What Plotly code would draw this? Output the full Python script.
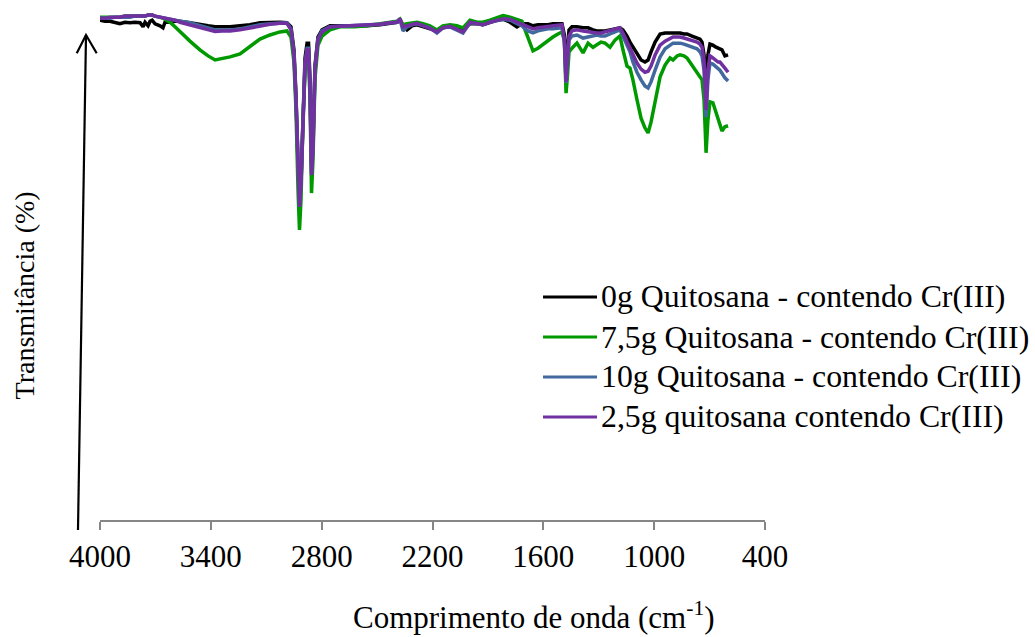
import plotly.graph_objects as go

# FTIR spectra of the Cr(III)-loaded samples (transmittance, arbitrary % scale)
wavenumber = [
    4000, 3973, 3946, 3919, 3892, 3865, 3838, 3811, 3783, 3767,
    3756, 3740, 3729, 3718, 3702, 3675, 3659, 3648, 3621, 3594,
    3567, 3513, 3459, 3415, 3377, 3340, 3296, 3242, 3188, 3134,
    3080, 3026, 2988, 2966, 2950, 2939, 2928, 2920, 2912, 2901,
    2890, 2879, 2871, 2863, 2855, 2847, 2836, 2820, 2798, 2755,
    2701, 2620, 2555, 2484, 2430, 2392, 2376, 2360, 2338, 2311,
    2284, 2251, 2214, 2176, 2144, 2105, 2068, 2035, 1997, 1959,
    1927, 1889, 1851, 1818, 1780, 1743, 1716, 1699, 1683, 1656,
    1629, 1602, 1575, 1548, 1521, 1499, 1486, 1477, 1469, 1461,
    1445, 1418, 1385, 1358, 1331, 1310, 1288, 1266, 1239, 1212,
    1185, 1169, 1147, 1131, 1115, 1093, 1071, 1050, 1033, 1017,
    995, 968, 941, 914, 898, 876, 860, 839, 822, 795,
    768, 752, 741, 730, 719, 709, 698, 682, 665, 654,
    644, 633, 617, 600,
]

t_0g = [
    98.0, 97.8, 97.8, 97.6, 97.3, 97.6, 97.5, 97.6, 97.5, 96.7,
    97.6, 96.9, 97.8, 98.0, 97.3, 96.9, 96.5, 97.6, 97.6, 97.8,
    97.8, 97.5, 97.1, 96.9, 96.7, 96.7, 96.7, 96.9, 97.1, 97.5,
    97.6, 97.6, 97.5, 96.7, 92.2, 83.3, 69.6, 62.7, 66.7, 81.4,
    90.6, 93.5, 93.5, 86.3, 69.6, 74.5, 89.2, 94.7, 96.1, 96.9,
    96.9, 96.9, 96.9, 97.1, 97.3, 97.6, 98.0, 96.9, 96.1, 96.9,
    97.1, 96.7, 96.3, 95.9, 96.5, 96.7, 96.3, 96.1, 97.3, 97.3,
    97.1, 97.6, 98.0, 98.2, 97.6, 96.7, 97.3, 97.3, 97.3, 96.9,
    97.1, 97.1, 97.1, 97.3, 97.3, 97.3, 95.1, 88.2, 92.2, 96.1,
    96.7, 96.7, 96.5, 96.5, 96.1, 95.9, 95.9, 95.9, 96.1, 96.3,
    96.5, 96.1, 94.9, 93.7, 92.7, 91.4, 90.2, 89.8, 90.2, 91.8,
    93.7, 95.3, 95.5, 95.5, 95.5, 95.5, 95.5, 95.3, 95.3, 94.9,
    94.5, 94.3, 93.7, 91.2, 83.3, 91.2, 93.3, 93.1, 92.7, 92.5,
    92.4, 92.2, 91.0, 91.2,
]

t_7_5g = [
    98.6, 98.6, 98.6, 98.6, 98.6, 98.8, 98.8, 98.8, 98.8, 98.8,
    98.8, 99.0, 99.0, 99.0, 98.8, 98.6, 98.4, 98.2, 97.6, 96.7,
    95.7, 93.9, 92.2, 91.0, 90.2, 90.4, 90.8, 91.4, 92.9, 94.3,
    95.1, 95.7, 95.9, 94.7, 89.8, 80.4, 64.7, 56.9, 62.7, 78.8,
    87.8, 90.8, 90.8, 82.4, 64.1, 70.6, 86.7, 93.1, 94.9, 96.1,
    96.7, 96.7, 96.9, 97.3, 97.6, 97.8, 98.2, 97.1, 97.3, 97.5,
    97.6, 97.3, 96.9, 96.1, 96.9, 97.1, 96.9, 96.5, 98.0, 97.6,
    97.6, 98.0, 98.4, 98.9, 98.6, 98.2, 97.8, 96.1, 94.5, 92.0,
    92.5, 93.3, 94.1, 94.7, 95.3, 95.7, 94.1, 83.7, 87.3, 91.8,
    92.5, 93.5, 91.6, 93.5, 92.7, 93.1, 93.7, 93.5, 92.7, 94.1,
    94.9, 92.2, 89.0, 88.6, 86.3, 82.4, 78.8, 76.9, 75.9, 78.0,
    82.4, 86.9, 89.2, 90.6, 90.2, 91.0, 91.2, 91.0, 90.6, 89.2,
    87.6, 86.9, 86.3, 82.4, 72.0, 78.4, 82.0, 81.8, 80.0, 79.0,
    77.5, 76.3, 77.1, 77.3,
]

t_10g = [
    98.4, 98.4, 98.4, 98.6, 98.6, 98.6, 98.6, 98.8, 98.8, 98.8,
    98.8, 99.0, 99.0, 99.0, 98.8, 98.6, 98.4, 98.4, 98.2, 98.0,
    97.8, 97.5, 96.9, 96.5, 96.1, 96.1, 96.1, 96.3, 96.7, 97.1,
    97.3, 97.5, 97.5, 96.3, 91.4, 82.7, 69.0, 61.8, 66.1, 80.8,
    89.6, 92.5, 92.5, 84.9, 68.2, 73.3, 88.6, 94.3, 95.9, 96.7,
    96.8, 96.8, 96.9, 97.2, 97.5, 97.6, 98.2, 95.9, 96.7, 97.1,
    97.3, 96.9, 96.5, 95.5, 96.5, 96.7, 96.1, 95.5, 97.5, 97.3,
    97.1, 97.6, 98.0, 98.2, 98.0, 97.3, 96.9, 96.3, 95.9, 95.5,
    95.9, 96.1, 96.3, 96.3, 96.5, 96.5, 93.7, 85.7, 89.8, 94.1,
    94.9, 95.1, 94.5, 94.7, 94.9, 95.1, 94.9, 94.9, 95.3, 95.7,
    96.1, 94.9, 92.9, 91.8, 89.8, 87.8, 86.3, 85.1, 84.7, 85.9,
    88.2, 90.8, 92.4, 93.1, 93.5, 93.5, 93.5, 93.3, 93.1, 92.7,
    92.4, 91.8, 91.0, 88.2, 79.0, 86.3, 89.6, 89.4, 88.8, 88.6,
    88.2, 87.6, 86.7, 86.1,
]

t_2_5g = [
    98.4, 98.4, 98.6, 98.6, 98.6, 98.8, 98.8, 98.8, 98.8, 98.8,
    98.8, 99.0, 99.0, 99.0, 98.8, 98.6, 98.4, 98.4, 98.2, 98.0,
    97.6, 97.1, 96.5, 96.1, 95.8, 95.9, 95.9, 96.1, 96.5, 96.9,
    97.2, 97.4, 97.4, 96.1, 91.2, 82.4, 68.6, 61.4, 65.7, 80.4,
    89.2, 92.2, 92.2, 84.3, 67.6, 72.5, 88.2, 94.1, 95.7, 96.7,
    96.8, 96.8, 96.9, 97.2, 97.5, 97.6, 98.3, 96.7, 96.9, 97.1,
    97.4, 96.9, 96.4, 95.7, 96.5, 96.8, 96.3, 95.7, 97.6, 97.3,
    97.1, 97.6, 98.0, 98.3, 98.2, 97.6, 97.3, 96.9, 96.7, 96.3,
    96.5, 96.6, 96.8, 96.9, 97.0, 97.1, 94.1, 85.9, 90.2, 94.9,
    95.9, 96.1, 95.9, 95.7, 95.5, 95.5, 95.5, 95.7, 95.9, 96.1,
    96.5, 95.5, 93.7, 92.5, 91.2, 89.6, 88.4, 87.8, 88.0, 89.0,
    91.2, 93.1, 93.9, 94.3, 94.7, 94.7, 94.7, 94.5, 94.3, 93.9,
    93.7, 93.3, 92.7, 90.2, 80.4, 88.2, 91.0, 90.6, 90.2, 89.8,
    89.8, 89.4, 88.6, 87.8,
]

series_names = [
    "0g Quitosana - contendo Cr(III)",
    "7,5g Quitosana - contendo Cr(III)",
    "10g Quitosana - contendo Cr(III)",
    "2,5g quitosana contendo Cr(III)",
]
series_values = [t_0g, t_7_5g, t_10g, t_2_5g]
series_colors = ["#000000", "#009A00", "#41699E", "#7030A0"]

x_ticks = [4000, 3400, 2800, 2200, 1600, 1000, 400]

FONT = "Liberation Serif"
FS = 31

fig = go.Figure()
for name, vals, col in zip(series_names, series_values, series_colors):
    fig.add_trace(go.Scatter(
        x=wavenumber, y=vals, name=name, mode="lines",
        line=dict(color=col, width=3.5), showlegend=False,
    ))

fig.update_layout(
    width=1035, height=637,
    margin=dict(l=100, r=270, t=10, b=117),
    paper_bgcolor="white", plot_bgcolor="white",
    font=dict(family=FONT, size=FS, color="black"),
    xaxis=dict(
        range=[4000, 400], tickvals=x_ticks,
        ticktext=[str(v) for v in x_ticks],
        ticks="outside", ticklen=8, tickwidth=1.5, tickcolor="#868686",
        showline=True, linecolor="#868686", linewidth=1.5,
        showgrid=False, zeroline=False,
        tickfont=dict(family=FONT, size=FS, color="black"),
    ),
    yaxis=dict(range=[0, 100], visible=False),
)

# axis titles
fig.add_annotation(
    text="Comprimento de onda (cm<sup>-1</sup>)", xref="paper", yref="paper",
    x=0.653, y=-0.229, xanchor="center", yanchor="bottom", showarrow=False,
    font=dict(family=FONT, size=FS, color="black"),
)
fig.add_annotation(
    text="Transmitância (%)", xref="paper", yref="paper", textangle=-90,
    x=-0.113, y=0.44, xanchor="center", yanchor="middle", showarrow=False,
    font=dict(family=FONT, size=28, color="black"),
)

# upward arrow beside the plot
fig.add_shape(type="line", xref="paper", yref="paper",
              x0=-0.0331, y0=-0.0196, x1=-0.02105, y1=0.951,
              line=dict(color="black", width=2.2))
fig.add_shape(type="path", xref="paper", yref="paper",
              path="M -0.0350,0.9151 L -0.02105,0.951 L -0.00496,0.9151",
              line=dict(color="black", width=2.2))

# legend
row_y = [0.4373, 0.3588, 0.2804, 0.2020]
for name, col, yy in zip(series_names, series_colors, row_y):
    fig.add_shape(type="line", xref="paper", yref="paper",
                  x0=0.6662, x1=0.7474, y0=yy, y1=yy,
                  line=dict(color=col, width=3))
    fig.add_annotation(
        text=name, xref="paper", yref="paper", x=0.750, y=yy,
        xanchor="left", yanchor="middle", showarrow=False,
        font=dict(family=FONT, size=31.8, color="black"),
    )

fig.write_html("out.html", config={"displayModeBar": False})
